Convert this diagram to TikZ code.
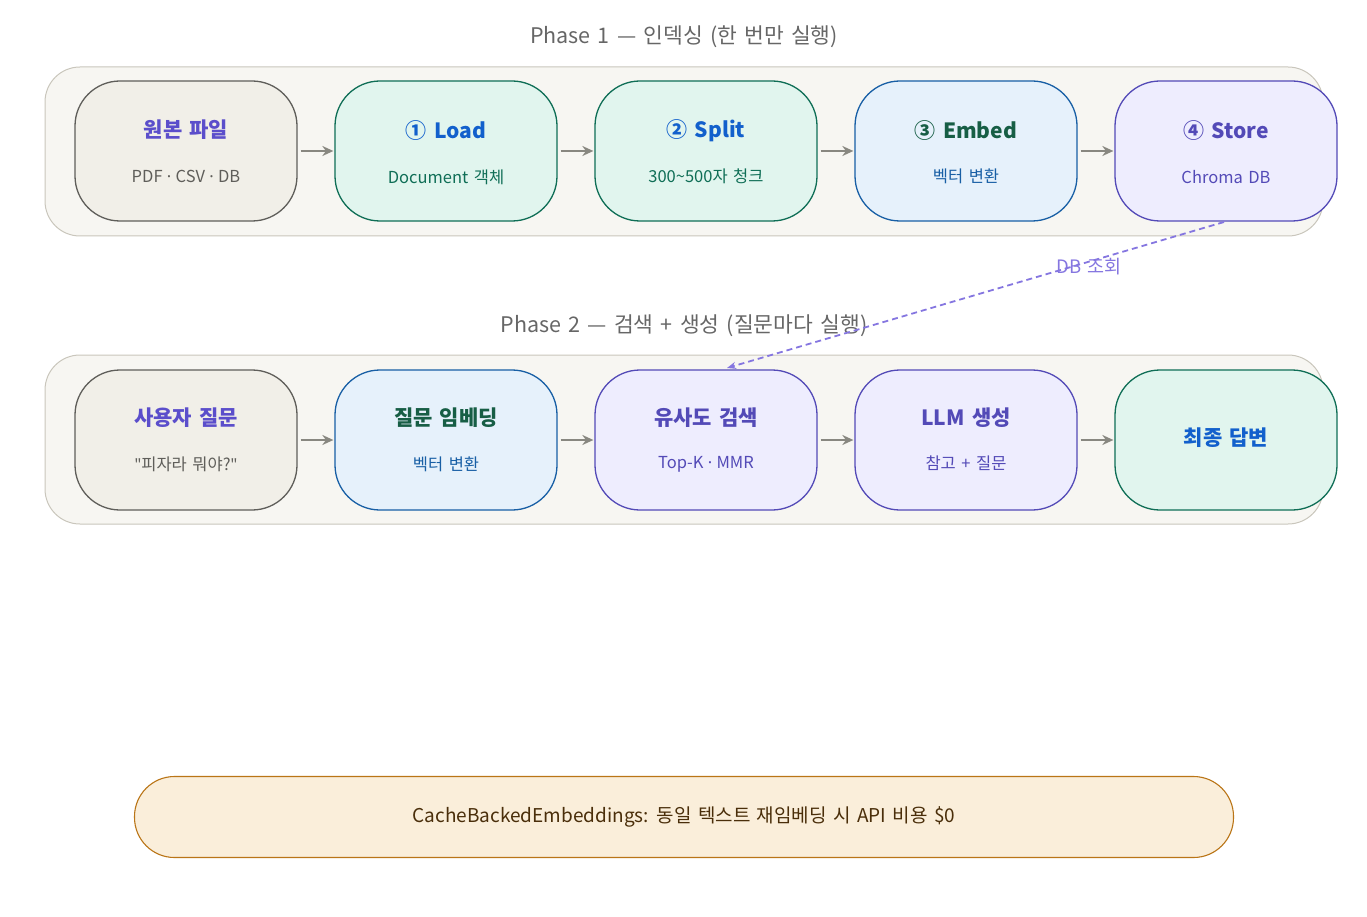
\documentclass[tikz,border=0pt]{standalone}
\usepackage{fontspec}
\setmainfont{Noto Sans CJK KR}[WordSpace=1.5]
\newfontfamily\latinfont{Noto Sans}
\newfontfamily\quotefont{Noto Sans}[Ligatures=ResetAll]
\newcommand{\mdot}{{\latinfont\ ·\ }}
\newcommand{\sq}{{\quotefont\symbol{34}}}
\usetikzlibrary{arrows.meta}
\definecolor{panelfill}{HTML}{F7F6F2}
\definecolor{panelline}{HTML}{C9C6BC}
\definecolor{grayfill}{HTML}{F1EFE8}
\definecolor{grayline}{HTML}{5F5E5A}
\definecolor{greenfill}{HTML}{E1F5EE}
\definecolor{greenline}{HTML}{0F6E56}
\definecolor{bluefill}{HTML}{E6F1FB}
\definecolor{blueline}{HTML}{185FA5}
\definecolor{purpfill}{HTML}{EEEDFE}
\definecolor{purpline}{HTML}{534AB7}
\definecolor{titleblue}{HTML}{1260CC}
\definecolor{titlegreen}{HTML}{175E45}
\definecolor{titlepurp}{HTML}{5B4ECB}
\definecolor{arrowgray}{HTML}{888780}
\definecolor{dashpurp}{HTML}{8576E0}
\definecolor{phasegray}{HTML}{666666}
\definecolor{cachefill}{HTML}{FAEEDA}
\definecolor{cacheline}{HTML}{BA7517}
\definecolor{cachetext}{HTML}{4A2E0A}
\tikzset{
  panel/.style={draw=panelline, fill=panelfill, line width=1pt, rounded corners=35pt},
  stepbox/.style={minimum width=222pt, minimum height=140pt, rounded corners=45pt, line width=1.3pt, inner sep=0pt},
  gbox/.style={stepbox, draw=grayline, fill=grayfill},
  grbox/.style={stepbox, draw=greenline, fill=greenfill},
  bbox/.style={stepbox, draw=blueline, fill=bluefill},
  pbox/.style={stepbox, draw=purpline, fill=purpfill},
  ttl/.style={font=\fontsize{21}{25}\selectfont\bfseries, anchor=center},
  sub/.style={font=\fontsize{16.5}{20}\selectfont, anchor=center},
  flow/.style={-{Stealth[length=11pt,width=10pt]}, draw=arrowgray, line width=2.5pt, shorten >=1pt, shorten <=3pt},
  phase/.style={font=\fontsize{21.5}{25}\selectfont, text=phasegray}
}
\begin{document}
\begin{tikzpicture}[x=1pt,y=-1pt]
\useasboundingbox (0,0) rectangle (1367,917);
% panels
\draw[panel] (45,67) rectangle (1323,236);
\draw[panel] (45,355) rectangle (1323,524);
\node[phase] (ph1) at (684,37) {Phase 1 — 인덱싱 (한 번만 실행)};
\node[phase] (ph2) at (684,326) {Phase 2 — 검색 + 생성 (질문마다 실행)};
% phase 1 boxes
\node[gbox] (src) at (186,151) {};
\node[grbox] (load) at (446,151) {};
\node[grbox] (split) at (706,151) {};
\node[bbox] (embed) at (966,151) {};
\node[pbox] (store) at (1226,151) {};
\node[ttl, text=titlepurp] (srct) at (186,130) {원본 파일};
\node[sub, text=grayline] (srcs) at (186,176) {PDF\mdot CSV\mdot DB};
\node[ttl, text=titleblue] (loadt) at (446,131) {① Load};
\node[sub, text=greenline] (loads) at (446,177) {Document 객체};
\node[ttl, text=titleblue] (splitt) at (706,131) {② Split};
\node[sub, text=greenline] (splits) at (706,176) {300\textasciitilde500자 청크};
\node[ttl, text=titlegreen] (embedt) at (966,131) {③ Embed};
\node[sub, text=blueline] (embeds) at (966,176) {벡터 변환};
\node[ttl, text=purpline] (storet) at (1226,131) {④ Store};
\node[sub, text=purpline] (stores) at (1226,177) {Chroma DB};
% phase 2 boxes
\node[gbox] (user) at (186,440) {};
\node[bbox] (qemb) at (446,440) {};
\node[pbox] (sim) at (706,440) {};
\node[pbox] (llm) at (966,440) {};
\node[grbox] (final) at (1226,440) {};
\node[ttl, text=titlepurp] (usert) at (186,418) {사용자 질문};
\node[sub, text=grayline] (users) at (186,464) {\sq 피자라 뭐야?\sq};
\node[ttl, text=titlegreen] (qembt) at (446,418) {질문 임베딩};
\node[sub, text=blueline] (qembs) at (446,464) {벡터 변환};
\node[ttl, text=purpline] (simt) at (706,418) {유사도 검색};
\node[sub, text=purpline] (sims) at (706,464) {Top-K\mdot MMR};
\node[ttl, text=purpline] (llmt) at (966,418) {LLM 생성};
\node[sub, text=purpline] (llms) at (966,463) {참고 + 질문};
\node[ttl, text=titleblue] (finalt) at (1226,438) {최종 답변};
% arrows
\foreach \a/\b in {src/load, load/split, split/embed, embed/store, user/qemb, qemb/sim, sim/llm, llm/final}
  \draw[flow] (\a.east) -- (\b.west);
% dashed lookup
\coordinate (dstart) at (1224,222);
\coordinate (dend) at (727,368);
\draw[dashpurp, line width=1.8pt, dash pattern=on 6pt off 4pt, -{Stealth[length=9pt,width=7pt,open]}] (dstart) -- (dend);
\node[font=\fontsize{18.5}{22}\selectfont, text=dashpurp] (dbq) at (1089,267) {DB 조회};
% cache box
\node[draw=cacheline, fill=cachefill, line width=1.1pt, rounded corners=40pt, minimum width=1099pt, minimum height=81pt, font=\fontsize{19}{22}\selectfont, text=cachetext] (cache) at (684,817) {CacheBackedEmbeddings: 동일 텍스트 재임베딩 시 API 비용 \$0};
\end{tikzpicture}
\end{document}
